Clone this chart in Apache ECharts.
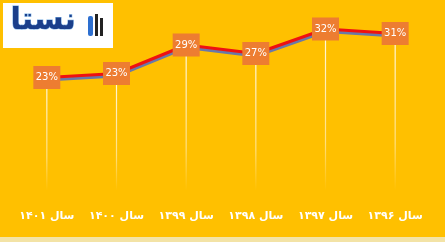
<!DOCTYPE html>
<html><head><meta charset="utf-8">
<script src="https://cdn.jsdelivr.net/npm/echarts@6/dist/echarts.min.js"></script>
<style>html,body{margin:0;padding:0;background:#F3E3A6;}#c{width:445px;height:237px;background:#FFC000;}</style>
</head><body><div id="c"></div>
<script>
const categories = ['سال ۱۳۹۶','سال ۱۳۹۷','سال ۱۳۹۸','سال ۱۳۹۹','سال ۱۴۰۰','سال ۱۴۰۱'];
const values = [31.4, 32.3, 27.4, 29.1, 23.4, 22.6];
const chart = echarts.init(document.getElementById('c'));
chart.setOption({
  backgroundColor: '#FFC000',
  animation: false,
  grid: {left: 12, right: 15, top: 15.5, bottom: 46.5},
  xAxis: {
    type: 'category', data: categories, inverse: true, boundaryGap: true,
    axisLine: {show: false}, axisTick: {show: false},
    axisLabel: {interval: 0, color: '#fff', fontWeight: 'bold', fontSize: 11, margin: 20, fontFamily: 'DejaVu Sans'}
  },
  yAxis: {type: 'value', min: 0, max: 35, show: false, splitLine: {show: false}},
  series: [
    {
      type: 'bar', data: values, barWidth: 1.2, z: 1,
      itemStyle: {color: new echarts.graphic.LinearGradient(0,0,0,1,[
        {offset: 0, color: 'rgba(255,255,255,0.9)'},
        {offset: 0.7, color: 'rgba(255,255,255,0.5)'},
        {offset: 1, color: 'rgba(255,255,255,0)'}])}
    },
    {
      type: 'line', data: values, z: 3,
      lineStyle: {color: '#EE1111', width: 3, shadowColor: '#6A78A8', shadowBlur: 0, shadowOffsetY: 2.5},
      symbol: 'rect', symbolSize: [27, 23],
      itemStyle: {color: '#ED7D31'},
      label: {show: true, position: 'inside', color: '#fff', fontSize: 10, fontFamily: 'DejaVu Sans',
              formatter: p => Math.round(p.value) + '%'}
    }
  ],
  graphic: [
    {type: 'rect', left: 3, top: 3, shape: {width: 110, height: 45}, style: {fill: '#fff'}},
    {type: 'text', left: 10, top: 6, style: {text: 'نستا', font: 'bold 30px "DejaVu Sans"', fill: '#1B3F8B', stroke: '#7FB2E5', lineWidth: 1}},
    {type: 'rect', left: 88, top: 16, shape: {width: 5, height: 20, r: 2}, style: {fill: '#2D6FD0'}},
    {type: 'rect', left: 95, top: 14, shape: {width: 3, height: 22}, style: {fill: '#222'}},
    {type: 'rect', left: 100, top: 18, shape: {width: 3, height: 18}, style: {fill: '#222'}}
  ]
});
</script></body></html>
